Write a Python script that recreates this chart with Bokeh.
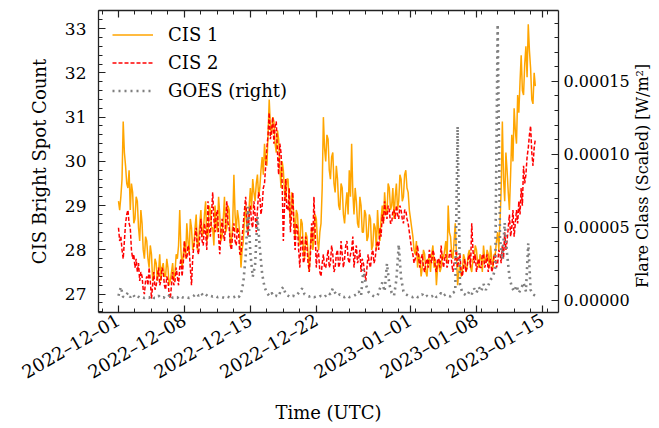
import math
from datetime import datetime, timedelta

from bokeh.plotting import figure
from bokeh.models import (Range1d, LinearAxis, DatetimeAxis, FixedTicker,
                          DatetimeTickFormatter, PrintfTickFormatter, Legend, LegendItem)
from bokeh.embed import file_html
from bokeh.resources import INLINE

# ---------------- data ----------------
start = datetime(2022, 12, 1)
cis_step_hours = 3
goes_step_hours = 6

cis1 = [
    29.1, 28.9, 29.2, 29.6, 30.9, 30.2, 29.9, 29.5,
    29.4, 29.8, 28.9, 29.5, 29.3, 28.6, 28.7, 29.2,
    29.1, 28.5, 28.2, 28.9, 28.6, 28.0, 27.8, 28.3,
    28.2, 27.8, 27.6, 28.1, 27.9, 27.3, 27.4, 27.8,
    27.7, 27.3, 27.5, 27.9, 27.3, 27.6, 27.7, 27.4,
    27.4, 27.8, 27.6, 27.2, 27.3, 27.5, 27.7, 27.3,
    27.5, 27.9, 27.8, 28.1, 28.9, 28.0, 27.6, 27.9,
    28.2, 27.8, 28.6, 28.2, 27.9, 28.7, 28.5, 28.0,
    28.1, 28.5, 28.8, 28.0, 28.2, 28.6, 28.9, 28.3,
    28.4, 28.8, 29.1, 28.2, 28.3, 29.0, 28.9, 28.5,
    28.5, 28.1, 29.0, 28.6, 28.4, 29.2, 28.8, 28.2,
    28.3, 28.7, 29.2, 28.4, 28.5, 29.0, 28.9, 28.1,
    28.2, 28.6, 29.7, 28.8, 28.4, 28.9, 28.7, 28.3,
    27.6, 28.0, 28.2, 28.7, 29.0, 28.5, 28.4, 29.0,
    29.4, 28.9, 29.6, 29.3, 29.1, 29.5, 29.7, 29.2,
    29.4, 29.8, 30.1, 29.7, 30.4, 30.0, 29.9, 30.6,
    31.4, 30.8, 30.6, 31.0, 30.9, 30.4, 30.2, 30.7,
    30.5, 29.9, 29.4, 30.0, 29.8, 29.3, 29.1, 29.6,
    29.6, 29.0, 28.6, 29.3, 29.2, 28.7, 28.3, 28.9,
    28.8, 28.3, 28.1, 28.7, 28.6, 28.0, 27.8, 28.4,
    28.3, 27.9, 27.5, 28.1, 28.5, 28.0, 28.2, 28.8,
    28.7, 28.2, 28.0, 28.4, 28.6, 29.4, 31.0, 30.3,
    30.0, 30.6, 30.5, 29.8, 29.6, 30.1, 30.2, 29.5,
    29.3, 29.9, 29.6, 29.0, 28.9, 29.5, 29.4, 28.8,
    28.6, 29.0, 29.3, 28.8, 29.8, 29.2, 30.4, 29.3,
    28.8, 29.4, 29.1, 28.6, 28.5, 29.2, 29.0, 28.4,
    28.4, 28.9, 28.8, 28.2, 28.3, 28.8, 28.7, 28.0,
    28.1, 28.6, 28.5, 28.0, 28.9, 28.4, 28.2, 28.7,
    29.0, 28.6, 29.3, 28.9, 28.8, 29.5, 29.4, 28.9,
    29.0, 29.4, 28.7, 29.2, 29.5, 28.9, 29.1, 29.7,
    29.6, 29.1, 29.2, 29.7, 29.8, 29.4, 29.3, 28.9,
    28.7, 28.5, 28.3, 28.0, 27.9, 28.2, 27.6, 27.9,
    27.8, 27.4, 27.6, 28.0, 27.9, 27.5, 27.4, 27.8,
    27.8, 27.5, 27.9, 28.1, 27.6, 27.8, 27.2, 27.6,
    27.8, 27.5, 27.6, 27.9, 27.8, 28.0, 28.2, 27.7,
    29.0, 28.4, 28.3, 27.9, 27.8, 28.2, 28.6, 27.9,
    27.2, 27.5, 27.7, 27.4, 27.5, 27.9, 27.8, 27.5,
    27.6, 27.9, 28.0, 27.6, 27.5, 27.8, 27.8, 28.1,
    28.0, 27.7, 27.6, 27.9, 27.8, 27.5, 28.1, 27.8,
    27.7, 28.0, 27.9, 27.6, 28.1, 27.8, 27.6, 27.9,
    27.9, 28.2, 28.4, 28.0, 28.6, 29.4, 30.9, 29.6,
    29.1, 30.2, 29.8, 29.3, 28.9, 29.7, 30.6, 30.0,
    31.2, 30.7, 30.4, 31.5, 31.1, 31.8, 32.4, 31.6,
    31.5, 32.2, 32.6, 31.9, 33.1, 32.5, 32.1, 31.4,
    31.3, 32.0, 31.7,
]

cis2 = [
    28.5, 28.2, 28.3, 28.0, 27.8, 28.2, 28.6, 28.8,
    28.9, 28.6, 28.5, 28.0, 27.8, 27.9, 27.6, 27.8,
    27.5, 27.7, 27.3, 27.5, 27.4, 27.1, 27.0, 27.3,
    27.4, 27.2, 27.6, 27.3, 26.9, 27.2, 27.5, 27.1,
    27.2, 27.4, 27.6, 27.2, 27.3, 27.6, 27.5, 27.2,
    27.1, 27.4, 27.3, 27.0, 26.9, 27.2, 27.5, 27.2,
    27.3, 27.6, 27.4, 27.2, 27.6, 27.8, 27.4, 27.7,
    28.2, 27.9, 27.8, 28.1, 28.0, 27.6, 27.2, 27.8,
    28.1, 28.3, 28.5, 28.0, 27.9, 28.3, 28.7, 28.2,
    28.1, 28.6, 28.4, 28.0, 29.1, 28.5, 28.3, 28.8,
    29.3, 28.7, 28.4, 28.8, 28.9, 28.3, 27.9, 28.4,
    28.7, 28.4, 28.2, 28.6, 29.1, 28.6, 28.5, 28.1,
    28.0, 28.4, 28.6, 28.2, 28.1, 28.5, 28.4, 27.9,
    27.9, 28.3, 28.6, 28.9, 29.2, 28.7, 28.3, 28.8,
    29.0, 28.6, 28.5, 29.1, 28.8, 28.4, 28.9, 29.3,
    29.2, 28.8, 29.0, 29.4, 29.5, 29.9, 30.3, 30.6,
    31.1, 30.5, 30.7, 31.0, 30.4, 30.8, 30.9, 30.2,
    29.7, 30.4, 30.2, 29.5, 28.2, 29.0, 29.6, 28.9,
    28.9, 29.4, 28.4, 28.8, 29.3, 28.5, 28.0, 28.6,
    28.5, 28.0, 27.6, 28.2, 28.3, 27.7, 27.8, 28.3,
    28.1, 27.7, 27.5, 27.9, 28.6, 28.2, 29.2, 28.4,
    27.6, 28.0, 27.9, 27.5, 27.4, 27.7, 27.9, 27.6,
    27.6, 27.8, 28.0, 27.6, 27.7, 28.1, 27.9, 27.5,
    27.6, 27.9, 28.0, 27.6, 27.7, 28.2, 27.9, 27.6,
    27.8, 28.1, 28.2, 27.8, 27.7, 27.9, 28.0, 28.3,
    27.6, 27.9, 28.1, 27.7, 27.8, 28.0, 27.5, 27.8,
    27.7, 27.5, 27.3, 27.6, 27.9, 27.7, 27.6, 27.9,
    28.0, 27.7, 27.8, 28.1, 28.2, 28.0, 28.5, 28.3,
    28.8, 28.6, 29.1, 28.8, 28.7, 29.0, 28.9, 28.6,
    28.6, 28.9, 28.9, 28.7, 29.0, 28.8, 28.7, 29.0,
    28.9, 28.7, 28.6, 28.9, 28.9, 28.7, 28.6, 28.4,
    28.2, 28.0, 27.9, 27.7, 27.8, 27.9, 28.1, 27.8,
    27.6, 27.8, 27.9, 27.6, 27.5, 27.7, 27.8, 27.6,
    28.0, 27.8, 27.7, 28.0, 27.9, 27.6, 27.5, 27.8,
    27.8, 27.6, 28.1, 27.8, 27.6, 27.8, 27.9, 27.6,
    27.7, 27.9, 28.0, 27.7, 27.5, 27.7, 27.8, 28.0,
    27.6, 27.8, 27.9, 27.5, 27.4, 27.6, 27.8, 27.5,
    27.6, 27.8, 27.9, 27.6, 28.6, 28.0, 27.7, 27.9,
    27.5, 27.7, 27.8, 27.6, 27.6, 27.9, 27.9, 27.6,
    27.7, 27.9, 27.5, 27.7, 27.8, 27.5, 27.6, 27.9,
    27.9, 27.6, 27.7, 28.0, 27.9, 27.7, 28.1, 27.8,
    28.4, 28.0, 28.2, 28.5, 28.8, 28.3, 28.5, 28.9,
    28.3, 28.6, 28.9, 28.6, 29.1, 28.8, 29.4, 29.0,
    29.9, 29.5, 29.7, 30.1, 30.3, 30.6, 30.8, 30.2,
    29.9, 30.3, 30.5,
]

goes = [
    3e-6, 9e-6, 2e-6, 3e-6,      5e-6, 2e-6, 4e-6, 2e-6,      3e-6, 1.5e-6, 2e-6, 1.5e-6,
    2e-6, 1.5e-6, 3e-6, 1.5e-6,  1.5e-6, 3e-6, 1.5e-6, 2e-6,  1.2e-6, 2e-6, 4e-6, 1.5e-6,
    2e-6, 1.5e-6, 3e-6, 2e-6,    1.5e-6, 2e-6, 1.5e-6, 2e-6,  3e-6, 4.5e-6, 3e-6, 5e-6,
    3e-6, 4e-6, 2.5e-6, 3e-6,    2.5e-6, 3e-6, 2e-6, 2.5e-6,  2e-6, 1.5e-6, 2.5e-6, 2e-6,
    1.5e-6, 2e-6, 3e-6, 2e-6,    4e-6, 1.2e-5, 3.0e-5, 6.4e-5, 3.2e-5, 1.6e-5, 2.4e-5, 5.7e-5,
    3.6e-5, 1.8e-5, 9e-6, 5e-6,  3e-6, 5e-6, 2.5e-6, 3e-6,    2.5e-6, 7e-6, 9e-6, 4e-6,
    3e-6, 2e-6, 3e-6, 2.5e-6,    4e-6, 6e-6, 8e-6, 4e-6,      3e-6, 2.5e-6, 3e-6, 2e-6,
    2.5e-6, 2e-6, 3e-6, 2e-6,    3e-6, 5e-6, 4e-6, 8e-6,      5e-6, 3e-6, 4e-6, 2.5e-6,
    2e-6, 3e-6, 2e-6, 2.5e-6,    3e-6, 4e-6, 6e-6, 3e-6,      2.1e-5, 1.1e-5, 6e-6, 4e-6,
    3e-6, 2.5e-6, 3e-6, 8e-6,    1.2e-5, 6e-6, 2.5e-5, 1.1e-5, 5e-6, 3e-6, 1.4e-5, 3.8e-5,
    1.5e-5, 6e-6, 4e-6, 3e-6,    2.5e-6, 2e-6, 3e-6, 2e-6,    2.5e-6, 4e-6, 2e-6, 3e-6,
    2e-6, 2.5e-6, 4e-6, 2e-6,    3e-6, 5e-6, 3e-6, 4e-6,      3e-6, 2.5e-6, 5e-6, 6e-6,
    1.19e-4, 1.1e-5, 5e-6, 4e-6, 3e-6, 6e-6, 4e-6, 8e-6,      5e-6, 9e-6, 6e-6, 1.1e-5,
    7e-6, 1.0e-5, 1.4e-5, 1.6e-5, 2.2e-5, 1.89e-4, 4.2e-5, 2.8e-5, 5.3e-5, 3.2e-5, 1.6e-5, 9e-6,
    6e-6, 1.0e-5, 5e-6, 8e-6,    1.2e-5, 6e-6, 3.9e-5, 7e-6,  4e-6, 3e-6,
]

cis_times = [start + timedelta(hours=cis_step_hours * i) for i in range(len(cis1))]
goes_times = [start + timedelta(hours=goes_step_hours * i) for i in range(len(goes))]

major_dates = [datetime(2022, 12, 1), datetime(2022, 12, 8), datetime(2022, 12, 15),
               datetime(2022, 12, 22), datetime(2023, 1, 1), datetime(2023, 1, 8),
               datetime(2023, 1, 15)]
left_ticks = [27, 28, 29, 30, 31, 32, 33]
right_ticks = [0.0, 0.00005, 0.00010, 0.00015]
right_title = "Flare Class (Scaled) [W/m\u00b2]"

# ---------------- figure ----------------
EPOCH = datetime(1970, 1, 1)


def ms(d):
    return (d - EPOCH).total_seconds() * 1000.0


DAY = 86400000.0
x0 = ms(start) - 2.123 * DAY
x1 = ms(start) + 46.71 * DAY
y_lo, y_hi = 26.585, 33.41

FONT = "DejaVu Serif"
INK = "#222222"

p = figure(frame_width=460, frame_height=302, x_axis_type="datetime",
           x_range=Range1d(x0, x1), y_range=Range1d(y_lo, y_hi),
           output_backend="svg", toolbar_location=None,
           min_border_left=98, min_border_top=10, min_border_right=101, min_border_bottom=116)
p.background_fill_color = "white"
p.border_fill_color = "white"
p.outline_line_color = None
p.xgrid.visible = False
p.ygrid.visible = False
p.extra_y_ranges = {"goes": Range1d(-0.0000085, 0.0001986)}

major_ms = [ms(d) for d in major_dates]
minor_ms = []
k = -2
while True:
    t = ms(start) + k * 1.75 * DAY
    if t > x1:
        break
    if t >= x0:
        minor_ms.append(t)
    k += 1
x_ticker = FixedTicker(ticks=major_ms, minor_ticks=minor_ms)

fmt = "%Y\u2013%m\u2013%d"
dt_fmt = DatetimeTickFormatter(microseconds=fmt, milliseconds=fmt, seconds=fmt,
                               minsec=fmt, minutes=fmt, hourmin=fmt, hours=fmt,
                               days=fmt, months=fmt, years=fmt)

left_minor = [round(26.6 + 0.2 * i, 2) for i in range(35)]
right_minor = [i * 0.00001 for i in range(-1, 20)]


def style_axis(ax, label_size="17px"):
    ax.axis_line_color = INK
    ax.axis_line_width = 1.3
    ax.major_tick_line_color = INK
    ax.minor_tick_line_color = INK
    ax.major_tick_line_width = 1.2
    ax.minor_tick_line_width = 1.0
    ax.major_tick_in = 7
    ax.major_tick_out = 0
    ax.minor_tick_in = 4
    ax.minor_tick_out = 0
    ax.major_label_text_font = FONT
    ax.major_label_text_font_size = label_size
    ax.major_label_text_color = "black"
    ax.axis_label_text_font = FONT
    ax.axis_label_text_font_size = "18px"
    ax.axis_label_text_font_style = "normal"
    ax.axis_label_text_color = "black"


xa = p.xaxis[0]
xa.ticker = x_ticker
xa.formatter = dt_fmt
xa.major_label_orientation = math.pi / 6
xa.axis_label = "Time (UTC)"
style_axis(xa, "18px")
xa.major_label_standoff = 6
xa.axis_label_standoff = 8

ya = p.yaxis[0]
ya.ticker = FixedTicker(ticks=left_ticks, minor_ticks=left_minor)
ya.axis_label = "CIS Bright Spot Count"
style_axis(ya)
ya.major_label_standoff = 12
ya.axis_label_standoff = 12

# top spine with inward ticks, no labels
top = DatetimeAxis(ticker=x_ticker, formatter=dt_fmt)
style_axis(top)
top.major_label_text_font_size = "0px"
top.major_label_text_color = None
top.major_label_standoff = 0
top.major_label_overrides = {t: "" for t in major_ms}
p.add_layout(top, "above")

ra = LinearAxis(y_range_name="goes",
                ticker=FixedTicker(ticks=right_ticks, minor_ticks=right_minor),
                formatter=PrintfTickFormatter(format="%.5f"))
style_axis(ra, "16px")
ra.major_label_standoff = 5
p.add_layout(ra, "right")

# right-axis title, reading bottom-to-top like the reference: drawn as the single
# rotated label of an outer, line-less axis centred on the frame's middle
title_axis = LinearAxis(ticker=FixedTicker(ticks=[30], minor_ticks=[]))
title_axis.major_label_overrides = {30: right_title}
title_axis.major_label_orientation = math.pi / 2
title_axis.axis_line_color = None
title_axis.major_tick_line_color = None
title_axis.minor_tick_line_color = None
title_axis.major_tick_in = 0
title_axis.major_tick_out = 0
title_axis.minor_tick_in = 0
title_axis.minor_tick_out = 0
title_axis.major_label_standoff = 10
title_axis.major_label_text_font = FONT
title_axis.major_label_text_font_size = "16px"
title_axis.major_label_text_color = "black"
p.add_layout(title_axis, "right")

r1 = p.line(cis_times, cis1, line_color="orange", line_width=1.5)
r2 = p.line(cis_times, cis2, line_color="red", line_width=1.5, line_dash="4 2")
r3 = p.line(goes_times, goes, line_color="gray", line_width=2.6, line_dash="2 4",
            y_range_name="goes")

legend = Legend(items=[LegendItem(label="CIS 1", renderers=[r1]),
                       LegendItem(label="CIS 2", renderers=[r2]),
                       LegendItem(label="GOES (right)", renderers=[r3])],
                location="top_left")
legend.background_fill_alpha = 0
legend.border_line_alpha = 0
legend.label_text_font = FONT
legend.label_text_font_size = "18px"
legend.label_text_color = "black"
legend.glyph_width = 41
legend.glyph_height = 21
legend.label_height = 21
legend.label_standoff = 15
legend.spacing = 7
legend.padding = 10
legend.margin = 4
p.add_layout(legend, "center")

open("out.html", "w").write(file_html(p, INLINE))
